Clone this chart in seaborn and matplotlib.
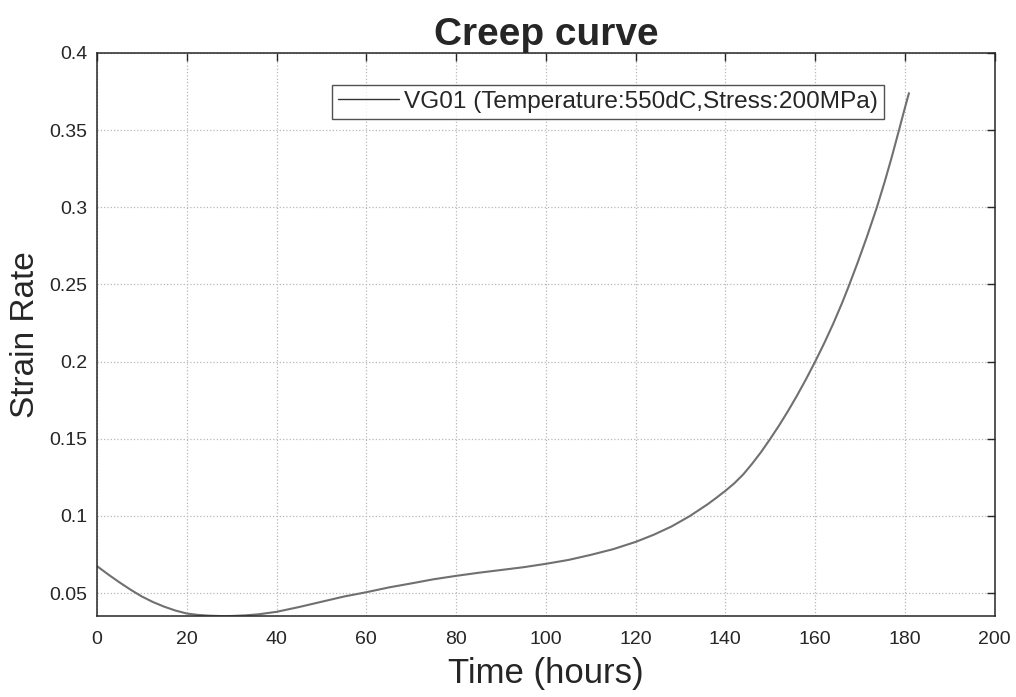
import matplotlib
matplotlib.use("Agg")
import matplotlib.pyplot as plt
import seaborn as sns
import pandas as pd
from matplotlib.ticker import FixedLocator, FixedFormatter

# Creep test readings: time in hours, strain rate
time_hours = [0, 2.5, 5, 7.5, 10, 12.5, 15, 17.5, 20, 22.5, 25, 28, 30, 33, 36,
              40, 45, 50, 55, 60, 65, 70, 75, 80, 85, 90, 95, 100, 105, 110,
              115, 120, 124, 128, 132, 136, 138, 140, 142, 144, 146, 148, 150,
              152, 154, 156, 158, 160, 162, 164, 166, 167.5, 169.5, 171.5,
              173.7, 175.5, 177, 178.6, 179.8, 180.9]
strain_rate = [0.0675, 0.0621, 0.0570, 0.0522, 0.0478, 0.0442, 0.0412, 0.0387,
               0.0368, 0.0359, 0.0354, 0.0351, 0.0352, 0.0356, 0.0363,
               0.0379, 0.0410, 0.0444, 0.0478, 0.0506, 0.0537, 0.0563, 0.0590,
               0.0612, 0.0632, 0.0650, 0.0668, 0.0690, 0.0715, 0.0748,
               0.0785, 0.0832, 0.0878, 0.0932, 0.0998, 0.1075, 0.1118, 0.1163,
               0.1212, 0.1270, 0.1340, 0.1416, 0.1500, 0.1588, 0.1682, 0.1782,
               0.1888, 0.2000, 0.2118, 0.2244, 0.2380, 0.2490, 0.2644, 0.2806,
               0.2995, 0.3166, 0.3318, 0.3491, 0.3623, 0.3740]
series_label = "VG01 (Temperature:550dC,Stress:200MPa)"

x_ticks = [0, 20, 40, 60, 80, 100, 120, 140, 160, 180, 200]
y_ticks = [0.05, 0.1, 0.15, 0.2, 0.25, 0.3, 0.35, 0.4]
y_tick_labels = ["0.05", "0.1", "0.15", "0.2", "0.25", "0.3", "0.35", "0.4"]

df = pd.DataFrame({"Time": time_hours, "Strain": strain_rate,
                   "Specimen": series_label})

sns.set_theme(style="white")
plt.rcParams["font.family"] = ["Liberation Sans", "DejaVu Sans"]

ink = "#262626"
fig = plt.figure(figsize=(10.16, 6.97), dpi=100)
ax = fig.add_axes([0.0955, 0.116, 0.8835, 0.808])

sns.lineplot(data=df, x="Time", y="Strain", hue="Specimen",
             palette=["#707070"], linewidth=1.5, ax=ax, legend=True)

ax.set_xlim(0, 200)
ax.set_ylim(min(strain_rate), 0.4)
ax.xaxis.set_major_locator(FixedLocator(x_ticks))
ax.yaxis.set_major_locator(FixedLocator(y_ticks))
ax.yaxis.set_major_formatter(FixedFormatter(y_tick_labels))

ax.grid(True, linestyle=":", color="#b8b8b8", linewidth=0.9)
ax.tick_params(direction="in", top=True, right=True, length=6, width=1,
               colors=ink, labelsize=14)
ax.tick_params(axis="y", pad=7)
ax.tick_params(axis="x", pad=11)
for side in ax.spines.values():
    side.set_visible(True)
    side.set_color(ink)
    side.set_linewidth(1.1)

ax.set_xlabel("Time (hours)", fontsize=25, color=ink, labelpad=6)
ax.set_ylabel("Strain Rate", fontsize=24, color=ink, labelpad=6)
ax.set_title("Creep curve", fontsize=28, fontweight="bold", color=ink, pad=6)

leg = ax.legend(loc="upper left", bbox_to_anchor=(0.262, 0.944),
                fontsize=17.6, frameon=True, fancybox=False,
                handlelength=2.5, handletextpad=0.2, borderpad=0.25,
                borderaxespad=0)
leg.get_frame().set_edgecolor(ink)
leg.get_frame().set_linewidth(1.0)
for h in leg.get_lines():
    h.set_color("#333333")
    h.set_linewidth(1.0)
for t in leg.get_texts():
    t.set_color(ink)

fig.savefig("out.png", dpi=100)
